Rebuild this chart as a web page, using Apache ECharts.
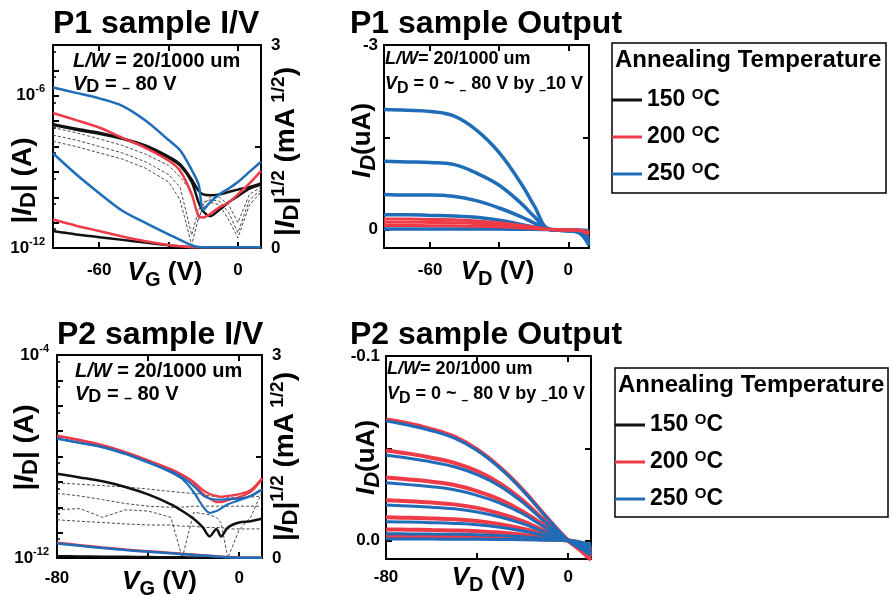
<!DOCTYPE html>
<html><head><meta charset="utf-8">
<script src="https://cdn.jsdelivr.net/npm/echarts@6/dist/echarts.min.js"></script>
<style>html,body{margin:0;padding:0;background:#fff}#c{width:892px;height:596px}</style>
</head><body><div id="c"></div>
<script>
// ---------------- DATA ----------------
// P1 transfer (I/V) : gate voltage grid
const VG_P1 = [-80,-70,-60,-50,-40,-30,-25,-20,-17,-15,-12,-8,-4,0,5,10];
const P1_LOG_150_FWD = [7.6e-8,5.0e-8,3.5e-8,2.1e-8,1.1e-8,4.0e-9,2.0e-9,5.0e-10,1.8e-10,1.3e-10,1.2e-10,1.3e-10,1.6e-10,2.0e-10,2.5e-10,3.5e-10];
const P1_LOG_150_REV = [7.0e-8,4.6e-8,3.2e-8,2.0e-8,1.0e-8,3.6e-9,1.8e-9,4.0e-10,6.3e-11,2.8e-11,1.8e-11,3.2e-11,6.3e-11,1.1e-10,2.2e-10,3.2e-10];
const P1_LOG_200 = [2.1e-7,1.1e-7,5.6e-8,2.2e-8,8.9e-9,2.8e-9,1.1e-9,1.3e-10,1.8e-11,1.6e-11,2.2e-11,4.0e-11,6.3e-11,1.3e-10,3.5e-10,1.1e-9];
const P1_LOG_250 = [2.1e-6,1.3e-6,7.9e-7,4.0e-7,1.05e-7,1.8e-8,7.1e-9,1.2e-9,3.2e-10,3.2e-11,6.3e-11,1.3e-10,2.2e-10,4.0e-10,1.0e-9,2.5e-9];
const P1_SQRT_150 = [0.25,0.20,0.16,0.12,0.08,0.04,0.025,0.012,0.01,0.01,0.01,0.01,0.01,0.01,0.01,0.01];
const P1_SQRT_200 = [0.42,0.33,0.25,0.17,0.10,0.045,0.025,0.012,0.01,0.01,0.01,0.01,0.01,0.01,0.01,0.01];
const P1_SQRT_250 = [1.40,1.09,0.81,0.55,0.37,0.20,0.12,0.04,0.015,0.01,0.01,0.01,0.01,0.01,0.01,0.01];
const P1_IG_A = [5.6e-8,3.5e-8,2.0e-8,1.1e-8,5.0e-9,1.8e-9,6.3e-10,1.6e-10,1.3e-11,5.0e-11,1.0e-10,1.0e-10,5.0e-11,1.0e-11,1.3e-10,2.5e-10];
const P1_IG_B = [2.8e-8,1.8e-8,1.0e-8,5.6e-9,2.5e-9,7.9e-10,2.5e-10,3.2e-12,3.2e-11,6.3e-11,7.9e-11,7.1e-11,2.5e-11,4.0e-12,7.9e-11,2.0e-10];
const P1_IG_C = [1.6e-8,1.0e-8,5.6e-9,3.2e-9,1.4e-9,4.0e-10,7.9e-11,1.3e-12,1.6e-11,4.0e-11,6.3e-11,5.0e-11,1.3e-11,2.5e-12,5.0e-11,1.6e-10];

// P2 transfer (I/V)
const VG_P2 = [-80,-70,-60,-50,-40,-30,-25,-20,-16,-13,-10,-8,-5,0,5,10];
const P2_LOG_150 = [2.1e-9,1.5e-9,1.05e-9,6.3e-10,3.2e-10,1.3e-10,7.1e-11,3.5e-11,1.6e-11,7.1e-12,1.4e-11,7.1e-12,1.6e-11,2.5e-11,2.8e-11,3.5e-11];
const P2_LOG_200_FWD = [6.6e-8,4.5e-8,2.8e-8,1.5e-8,7.1e-9,3.2e-9,1.9e-9,1.0e-9,4.8e-10,3.3e-10,2.8e-10,2.6e-10,2.8e-10,3.3e-10,4.7e-10,1.4e-9];
const P2_LOG_200_REV = [6.3e-8,4.3e-8,2.7e-8,1.45e-8,6.8e-9,3.0e-9,1.8e-9,9.0e-10,3.5e-10,2.2e-10,1.6e-10,1.6e-10,1.9e-10,2.5e-10,4.0e-10,1.3e-9];
const P2_LOG_250_FWD = [5.2e-8,3.5e-8,2.4e-8,1.3e-8,6.0e-9,2.4e-9,1.3e-9,4.0e-10,1.1e-10,6.0e-11,7.1e-11,8.9e-11,1.3e-10,1.9e-10,2.8e-10,5.0e-10];
const P2_LOG_250_REV = [5.0e-8,3.4e-8,2.3e-8,1.25e-8,5.8e-9,2.6e-9,1.5e-9,7.0e-10,3.0e-10,2.2e-10,2.0e-10,2.0e-10,2.1e-10,2.2e-10,2.8e-10,5.0e-10];
const P2_SQRT_150 = [0.03,0.027,0.024,0.021,0.018,0.015,0.013,0.011,0.01,0.009,0.008,0.007,0.006,0.005,0.004,0.004];
const P2_SQRT_200 = [0.225,0.19,0.155,0.125,0.10,0.075,0.062,0.05,0.04,0.033,0.026,0.021,0.014,0.006,0.003,0.003];
const P2_SQRT_250 = [0.215,0.18,0.147,0.118,0.093,0.069,0.057,0.045,0.036,0.029,0.022,0.018,0.011,0.004,0.003,0.003];
const P2_IG_A = [9.0e-10,8.1e-10,7.1e-10,6.3e-10,5.2e-10,4.2e-10,3.8e-10,3.5e-10,3.2e-10,2.8e-10,2.6e-10,2.5e-10,2.5e-10,2.4e-10,2.5e-10,2.8e-10];
const P2_IG_B = [3.5e-10,2.8e-10,2.0e-10,1.4e-10,1.1e-10,1.0e-10,1.0e-10,1.1e-10,1.1e-10,1.1e-10,1.1e-10,1.1e-10,1.1e-10,1.1e-10,1.1e-10,1.1e-10];
const P2_IG_C = [7.9e-11,8.9e-11,4.0e-11,7.9e-11,7.1e-11,4.0e-11,1.0e-12,6.3e-11,5.6e-11,5.0e-11,4.0e-11,2.5e-11,1.0e-12,1.3e-11,4.0e-11,4.0e-10];
const P2_IG_D = [3.2e-11,2.8e-11,2.5e-11,2.2e-11,2.0e-11,2.0e-11,1.8e-11,1.8e-11,1.6e-11,1.6e-11,1.6e-11,1.6e-11,1.4e-11,1.4e-11,1.4e-11,1.4e-11];

// P1 output (uA)
const VD_P1 = [-80,-70,-60,-50,-40,-30,-20,-15,-8,0,5,9];
const P1_OUT_200 = [
  [-0.17,-0.17,-0.165,-0.16,-0.14,-0.11,-0.065,-0.04,0,0.01,0.02,0.08],
  [-0.12,-0.12,-0.115,-0.11,-0.10,-0.08,-0.045,-0.028,0,0.008,0.015,0.06],
  [-0.065,-0.065,-0.063,-0.06,-0.055,-0.044,-0.025,-0.015,0,0.005,0.01,0.04]
];
const P1_OUT_250 = [
  [-1.95,-1.94,-1.92,-1.85,-1.62,-1.25,-0.72,-0.40,0,0.02,0.06,0.26],
  [-1.11,-1.10,-1.09,-1.06,-0.92,-0.72,-0.41,-0.22,0,0.02,0.05,0.22],
  [-0.57,-0.56,-0.56,-0.54,-0.47,-0.35,-0.20,-0.11,0,0.02,0.04,0.18],
  [-0.24,-0.24,-0.23,-0.22,-0.20,-0.15,-0.08,-0.04,0,0.01,0.03,0.14],
  [-0.01,-0.01,-0.01,-0.01,-0.01,-0.008,-0.005,-0.003,0,0.003,0.006,0.02]
];

// P2 output (uA)
const VD_P2 = [-80,-70,-60,-50,-40,-30,-20,-10,0,5,10];
const P2_OUT_200 = [
  [-0.0656,-0.0634,-0.0604,-0.0563,-0.0494,-0.0397,-0.0276,-0.0134,0,0.005,0.0105],
  [-0.0488,-0.0471,-0.0449,-0.0421,-0.0376,-0.0310,-0.0218,-0.0103,0,0.004,0.009],
  [-0.0342,-0.0331,-0.0319,-0.0301,-0.0268,-0.0222,-0.0158,-0.0077,0,0.003,0.008],
  [-0.0218,-0.0213,-0.0206,-0.0196,-0.0177,-0.0146,-0.0105,-0.0050,0,0.0025,0.007],
  [-0.0126,-0.0123,-0.0120,-0.0115,-0.0106,-0.0089,-0.0064,-0.0032,0,0.002,0.006],
  [-0.0060,-0.0059,-0.0057,-0.0055,-0.0051,-0.0043,-0.0031,-0.0016,0,0.0015,0.005],
  [-0.0020,-0.0020,-0.0019,-0.0019,-0.0018,-0.0015,-0.0011,-0.0006,0,0.001,0.004]
];
const P2_OUT_250 = [
  [-0.0648,-0.0625,-0.0595,-0.0555,-0.0488,-0.0392,-0.0272,-0.0132,0,0.004,0.008],
  [-0.0462,-0.0446,-0.0426,-0.0400,-0.0357,-0.0295,-0.0207,-0.0098,0,0.003,0.007],
  [-0.0313,-0.0303,-0.0292,-0.0275,-0.0245,-0.0203,-0.0145,-0.0070,0,0.002,0.006],
  [-0.0192,-0.0187,-0.0181,-0.0172,-0.0155,-0.0128,-0.0092,-0.0044,0,0.002,0.005],
  [-0.0102,-0.0100,-0.0097,-0.0093,-0.0086,-0.0072,-0.0052,-0.0026,0,0.0015,0.004],
  [-0.0037,-0.0036,-0.0035,-0.0034,-0.0032,-0.0027,-0.0020,-0.0010,0,0.001,0.003],
  [-0.0008,-0.0008,-0.0008,-0.0007,-0.0007,-0.0006,-0.0004,-0.0002,0,0.0008,0.002]
];

const LEGEND_NAMES = ['150','200','250'];
const P1_LOG_LABELS = [-6,-12];
const P2_LOG_LABELS = [-4,-12];

// ---------------- STYLE ----------------
const FONT = '"Liberation Sans", Arial, Helvetica, sans-serif';
const BLACK = '#111111', RED = '#ef3a48', BLUE = '#1f6cb8', GRAY = '#4a4a4a';

const AL = {show:true, onZero:false, lineStyle:{color:'#000', width:2}};
const LBL = {color:'#000', fontSize:17, fontWeight:'bold', fontFamily:FONT};
function tick(vals){ return {show:true, inside:true, length:6, lineStyle:{color:'#000', width:2}, customValues:vals}; }

function nameRich(sz){
  return {
    n:{fontSize:sz,fontWeight:'bold',fontFamily:FONT,color:'#000',lineHeight:34},
    it:{fontSize:sz,fontWeight:'bold',fontStyle:'italic',fontFamily:FONT,color:'#000',lineHeight:34},
    sub:{fontSize:sz-6,fontWeight:'bold',fontFamily:FONT,color:'#000',verticalAlign:'bottom',lineHeight:sz-4},
    subi:{fontSize:sz-4,fontWeight:'bold',fontStyle:'italic',fontFamily:FONT,color:'#000',verticalAlign:'bottom',lineHeight:sz-2},
    sup:{fontSize:sz-9,fontWeight:'bold',fontFamily:FONT,color:'#000',verticalAlign:'top',lineHeight:sz-9}
  };
}
const NAME_RICH = nameRich(26);
const IV_NAME_RICH = nameRich(28);
function annRich(sz, lh){
  return {
    n:{fontSize:sz,fontWeight:'bold',fontFamily:FONT,color:'#000',lineHeight:lh},
    it:{fontSize:sz,fontWeight:'bold',fontStyle:'italic',fontFamily:FONT,color:'#000',lineHeight:lh},
    sub:{fontSize:sz-2,fontWeight:'bold',fontFamily:FONT,color:'#000',verticalAlign:'bottom',lineHeight:sz-4},
    m:{fontSize:sz-6,fontWeight:'bold',fontFamily:FONT,color:'#000',verticalAlign:'bottom',lineHeight:sz-8}
  };
}
const LOG_RICH = {
  b:{fontSize:17,fontWeight:'bold',fontFamily:FONT,color:'#000',lineHeight:24},
  sup:{fontSize:11,fontWeight:'bold',fontFamily:FONT,color:'#000',verticalAlign:'top',lineHeight:11}
};
function logFmt(list){ return v => { const e = Math.round(Math.log10(v)); return list.includes(e) ? '{b|10}{sup|' + e + '}' : ''; }; }

function pts(xs, ys){ return xs.map((x,i)=>[x, ys[i]]); }
function line(name, xs, ys, xi, yi, color, width, extra){
  return Object.assign({type:'line', name:name, data:pts(xs,ys), xAxisIndex:xi, yAxisIndex:yi,
    symbol:'none', showSymbol:false, smooth:0.3, silent:true,
    itemStyle:{color:color}, lineStyle:{color:color, width:width}}, extra||{});
}
function dashed(xs, ys, xi, yi){
  return line('IG', xs, ys, xi, yi, GRAY, 1, {smooth:false, lineStyle:{color:GRAY, width:1, type:[3,2]}});
}

function xPair(grid, min, max, ticks, labels, name, gap, pad, margin){
  return [
    {type:'value', gridIndex:grid, position:'bottom', min:min, max:max, axisLine:AL, axisTick:tick(ticks),
     axisLabel:Object.assign({margin:margin, customValues:labels}, LBL), splitLine:{show:false},
     name:name, nameLocation:'middle', nameGap:gap, nameMoveOverlap:false, nameTextStyle:{rich:NAME_RICH, padding:pad}},
    {type:'value', gridIndex:grid, position:'top', min:min, max:max, axisLine:AL, axisTick:tick(ticks),
     axisLabel:{show:false}, splitLine:{show:false}}
  ];
}

const grids = [
  {left:53, top:45, width:208, height:203, outerBoundsMode:'none', containLabel:false},
  {left:384, top:45, width:205, height:203, outerBoundsMode:'none', containLabel:false},
  {left:57, top:355, width:205, height:203, outerBoundsMode:'none', containLabel:false},
  {left:386, top:356, width:205, height:203, outerBoundsMode:'none', containLabel:false}
];

const xAxes = [].concat(
  xPair(0, -80, 10, [-60,-30,0], [-60,0], '{it|V}{sub|G}{n| (V)}', 8, [0,0,0,16], 14),
  xPair(1, -80, 9, [-60,-30,0], [-60,0], '{it|V}{sub|D}{n| (V)}', 7, [0,0,0,22], 14),
  xPair(2, -80, 10, [-40,0], [-80,0], '{it|V}{sub|G}{n| (V)}', 7, [0,0,0,0], 12),
  xPair(3, -80, 10, [-40,0], [-80,0], '{it|V}{sub|D}{n| (V)}', 2, [0,0,0,0], 10)
);

const IV_Y_NAME_L = '{n||}{it|I}{sub|D}{n|| (A)}';
const IV_Y_NAME_R = '{n||}{it|I}{sub|D}{n||}{sup|1/2}{n| (mA}{sup| 1/2}{n|)}';
const OUT_Y_NAME = '{it|I}{subi|D}{n|(uA)}';

const yAxes = [
  // P1 I/V
  {type:'log', logBase:10, gridIndex:0, position:'left', min:1e-12, max:1e-4, splitNumber:8, axisLine:AL,
   axisTick:{show:true, inside:true, length:6, lineStyle:{color:'#000', width:2}},
   minorTick:{show:true, splitNumber:2, length:3, lineStyle:{color:'#000', width:1.5}},
   axisLabel:{margin:8, formatter:logFmt(P1_LOG_LABELS), rich:LOG_RICH}, splitLine:{show:false}, minorSplitLine:{show:false},
   name:IV_Y_NAME_L, nameLocation:'middle', nameRotate:90, nameGap:13, nameMoveOverlap:false, nameTextStyle:{rich:IV_NAME_RICH, padding:[0,68,0,0]}},
  {type:'value', gridIndex:0, position:'right', min:0, max:3, axisLine:AL, axisTick:tick([0,1.5,3]),
   axisLabel:Object.assign({margin:10, customValues:[0,3]}, LBL), splitLine:{show:false},
   name:IV_Y_NAME_R, nameLocation:'middle', nameRotate:90, nameGap:8, nameMoveOverlap:false, nameTextStyle:{rich:IV_NAME_RICH, padding:[0,10,0,0]}},
  // P1 output
  {type:'value', gridIndex:1, position:'left', inverse:true, min:-3, max:0.3, axisLine:AL, axisTick:tick([-3,-1.5,0]),
   axisLabel:Object.assign({margin:6, customValues:[-3,0]}, LBL), splitLine:{show:false},
   name:OUT_Y_NAME, nameLocation:'middle', nameRotate:90, nameGap:4, nameMoveOverlap:false, nameTextStyle:{rich:NAME_RICH, padding:[0,0,0,12]}},
  {type:'value', gridIndex:1, position:'right', inverse:true, min:-3, max:0.3, axisLine:AL, axisTick:tick([-3,-1.5,0]),
   axisLabel:{show:false}, splitLine:{show:false}},
  // P2 I/V
  {type:'log', logBase:10, gridIndex:2, position:'left', min:1e-12, max:1e-4, splitNumber:8, axisLine:AL,
   axisTick:{show:true, inside:true, length:6, lineStyle:{color:'#000', width:2}},
   minorTick:{show:true, splitNumber:2, length:3, lineStyle:{color:'#000', width:1.5}},
   axisLabel:{margin:8, formatter:logFmt(P2_LOG_LABELS), rich:LOG_RICH}, splitLine:{show:false}, minorSplitLine:{show:false},
   name:IV_Y_NAME_L, nameLocation:'middle', nameRotate:90, nameGap:15, nameMoveOverlap:false, nameTextStyle:{rich:IV_NAME_RICH, padding:[0,0,0,18]}},
  {type:'value', gridIndex:2, position:'right', min:0, max:3, axisLine:AL, axisTick:tick([0,1.5,3]),
   axisLabel:Object.assign({margin:10, customValues:[0,3]}, LBL), splitLine:{show:false},
   name:IV_Y_NAME_R, nameLocation:'middle', nameRotate:90, nameGap:6, nameMoveOverlap:false, nameTextStyle:{rich:IV_NAME_RICH}},
  // P2 output
  {type:'value', gridIndex:3, position:'left', inverse:true, min:-0.1, max:0.01, axisLine:AL, axisTick:tick([-0.1,-0.05,0]),
   axisLabel:Object.assign({margin:6, customValues:[-0.1,0], formatter:v=>v.toFixed(1)}, LBL), splitLine:{show:false},
   name:OUT_Y_NAME, nameLocation:'middle', nameRotate:90, nameGap:2, nameMoveOverlap:false, nameTextStyle:{rich:NAME_RICH}},
  {type:'value', gridIndex:3, position:'right', inverse:true, min:-0.1, max:0.01, axisLine:AL, axisTick:tick([-0.1,-0.05,0]),
   axisLabel:{show:false}, splitLine:{show:false}}
];

const series = [];
// P1 I/V (x 0, log y 0, sqrt y 1)
series.push(dashed(VG_P1, P1_IG_A, 0, 0), dashed(VG_P1, P1_IG_B, 0, 0), dashed(VG_P1, P1_IG_C, 0, 0));
series.push(line('150', VG_P1, P1_LOG_150_FWD, 0, 0, BLACK, 2.5), line('150', VG_P1, P1_LOG_150_REV, 0, 0, BLACK, 2.5));
series.push(line('150', VG_P1, P1_SQRT_150, 0, 1, BLACK, 2.5));
series.push(line('200', VG_P1, P1_LOG_200, 0, 0, RED, 2.5), line('200', VG_P1, P1_SQRT_200, 0, 1, RED, 2.5));
series.push(line('250', VG_P1, P1_LOG_250, 0, 0, BLUE, 2.5), line('250', VG_P1, P1_SQRT_250, 0, 1, BLUE, 2.5));
// P1 output (x 2, y 2)
P1_OUT_250.forEach(c => series.push(line('250', VD_P1, c, 2, 2, BLUE, 3.5, {smooth:0.4})));
P1_OUT_200.forEach(c => series.push(line('200', VD_P1, c, 2, 2, RED, 3, {smooth:0.4})));
// P2 I/V (x 4, log y 4, sqrt y 5)
series.push(dashed(VG_P2, P2_IG_A, 4, 4), dashed(VG_P2, P2_IG_B, 4, 4), dashed(VG_P2, P2_IG_C, 4, 4), dashed(VG_P2, P2_IG_D, 4, 4));
series.push(line('150', VG_P2, P2_LOG_150, 4, 4, BLACK, 2.5), line('150', VG_P2, P2_SQRT_150, 4, 5, BLACK, 2));
series.push(line('200', VG_P2, P2_LOG_200_FWD, 4, 4, RED, 2.2), line('200', VG_P2, P2_LOG_200_REV, 4, 4, RED, 2.2), line('200', VG_P2, P2_SQRT_200, 4, 5, RED, 2.5));
series.push(line('250', VG_P2, P2_LOG_250_FWD, 4, 4, BLUE, 2.2), line('250', VG_P2, P2_LOG_250_REV, 4, 4, BLUE, 2.2), line('250', VG_P2, P2_SQRT_250, 4, 5, BLUE, 2.5));
// P2 output (x 6, y 6)
P2_OUT_200.forEach(c => series.push(line('200', VD_P2, c, 6, 6, RED, 4, {smooth:0.4})));
P2_OUT_250.forEach(c => series.push(line('250', VD_P2, c, 6, 6, BLUE, 3, {smooth:0.4})));

const TITLE_STYLE = {fontSize:32, fontWeight:'bold', fontFamily:FONT, color:'#000'};
const LEG_TITLE_STYLE = {fontSize:24, fontWeight:'bold', fontFamily:FONT, color:'#000'};
const IV_ANN = '{it|L/W}{n| = 20/1000 um}\n{it|V}{sub|D}{n| = }{m|–}{n| 80 V}';
const OUT_ANN = '{it|L/W}{n|= 20/1000 um}\n{it|V}{sub|D}{n| = 0 ~ }{m|–}{n| 80 V by }{m|–}{n|10 V}';

const titles = [
  {text:'P1 sample I/V', left:53, top:8, padding:0, textStyle:TITLE_STYLE},
  {text:'P1 sample Output', left:350, top:8, padding:0, textStyle:TITLE_STYLE},
  {text:'P2 sample I/V', left:57, top:319, padding:0, textStyle:TITLE_STYLE},
  {text:'P2 sample Output', left:350, top:319, padding:0, textStyle:TITLE_STYLE},
  {text:IV_ANN, left:73, top:50, padding:0, textStyle:{rich:annRich(20,23)}},
  {text:OUT_ANN, left:385, top:47, padding:0, textStyle:{rich:annRich(18,25)}},
  {text:IV_ANN, left:75, top:360, padding:0, textStyle:{rich:annRich(20,23)}},
  {text:OUT_ANN, left:387, top:357, padding:0, textStyle:{rich:annRich(18,25)}},
  {text:'Annealing Temperature', left:615, top:48, padding:0, textStyle:LEG_TITLE_STYLE},
  {text:'Annealing Temperature', left:618, top:373, padding:0, textStyle:LEG_TITLE_STYLE}
];

const LEG_RICH = {
  b:{fontSize:23, fontWeight:'bold', fontFamily:FONT, color:'#000', lineHeight:26},
  s:{fontSize:15, fontWeight:'bold', fontFamily:FONT, color:'#000', verticalAlign:'top', lineHeight:15}
};
function legend(left, top){
  return {data:LEGEND_NAMES, orient:'vertical', left:left, top:top, padding:0, itemGap:12.5,
    itemWidth:30, itemHeight:3, icon:'rect', selectedMode:false,
    formatter:n => '{b|' + n + ' }{s|O}{b|C}', textStyle:{rich:LEG_RICH}};
}

const chart = echarts.init(document.getElementById('c'), null, {renderer:'canvas'});
chart.setOption({
  animation:false,
  backgroundColor:'#fff',
  title:titles,
  legend:[legend(612, 87), legend(615, 412)],
  grid:grids,
  xAxis:xAxes,
  yAxis:yAxes,
  series:series,
  graphic:[
    {type:'rect', shape:{x:612, y:43, width:274, height:150}, style:{fill:'none', stroke:'#000', lineWidth:1.5}, silent:true},
    {type:'rect', shape:{x:615, y:368, width:273, height:149}, style:{fill:'none', stroke:'#000', lineWidth:1.5}, silent:true}
  ]
});
</script>
</body></html>
